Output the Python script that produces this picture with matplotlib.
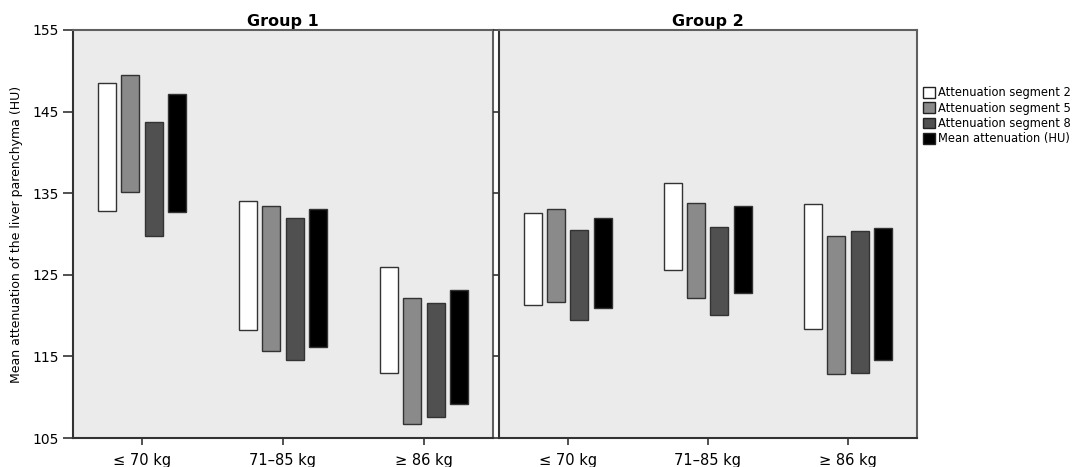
import numpy as np
import matplotlib
matplotlib.use("Agg")
import matplotlib.pyplot as plt
from matplotlib.patches import Patch

# weight classes (x categories)
categories = ["\u2264 70 kg", "71\u201385 kg", "\u2265 86 kg"]
series = ["Attenuation segment 2", "Attenuation segment 5",
          "Attenuation segment 8", "Mean attenuation (HU)"]
colors = ["#ffffff", "#8a8a8a", "#505050", "#000000"]

# Group 1: low / high ends of each floating bar, per series
g1_seg2_low = [132.8, 118.2, 113.0]
g1_seg2_high = [148.5, 134.0, 125.9]
g1_seg5_low = [135.2, 115.7, 106.7]
g1_seg5_high = [149.5, 133.4, 122.2]
g1_seg8_low = [129.7, 114.5, 107.6]
g1_seg8_high = [143.7, 131.9, 121.5]
g1_mean_low = [132.7, 116.2, 109.2]
g1_mean_high = [147.2, 133.0, 123.1]

# Group 2
g2_seg2_low = [121.3, 125.6, 118.4]
g2_seg2_high = [132.6, 136.2, 133.7]
g2_seg5_low = [121.7, 122.2, 112.8]
g2_seg5_high = [133.0, 133.8, 129.7]
g2_seg8_low = [119.5, 120.1, 113.0]
g2_seg8_high = [130.5, 130.8, 130.4]
g2_mean_low = [120.9, 122.8, 114.6]
g2_mean_high = [131.9, 133.4, 130.7]

groups = [
    ("Group 1", [(g1_seg2_low, g1_seg2_high), (g1_seg5_low, g1_seg5_high),
                 (g1_seg8_low, g1_seg8_high), (g1_mean_low, g1_mean_high)]),
    ("Group 2", [(g2_seg2_low, g2_seg2_high), (g2_seg5_low, g2_seg5_high),
                 (g2_seg8_low, g2_seg8_high), (g2_mean_low, g2_mean_high)]),
]
yticks = [105, 115, 125, 135, 145, 155]

plt.rcParams["font.family"] = "DejaVu Sans"

fig = plt.figure(figsize=(10.78, 4.67), dpi=100)
axes = [fig.add_axes([0.0677, 0.062, 0.3896, 0.874]),
        fig.add_axes([0.4629, 0.062, 0.3874, 0.874])]

x = np.arange(len(categories))
pitch = 0.166
width = 0.128
offsets = (np.arange(4) - 1.5) * pitch

for i, (ax, (title, data)) in enumerate(zip(axes, groups)):
    ax.set_facecolor("#ebebeb")
    for k, (low, high) in enumerate(data):
        low = np.array(low)
        high = np.array(high)
        ax.bar(x + offsets[k], high - low, bottom=low, width=width,
               color=colors[k], edgecolor="#333333", linewidth=1.0, zorder=3)
    ax.set_xlim(-0.49, 2.49)
    ax.set_ylim(105, 155)
    ax.set_yticks(yticks)
    ax.set_xticks(x)
    ax.set_xticklabels(categories, fontsize=10.5)
    ax.set_title(title, fontsize=11.5, fontweight="bold", pad=3)
    for s in ax.spines.values():
        s.set_color("#606060")
        s.set_linewidth(1.5)
    ax.spines["left"].set_color("#333333")
    ax.spines["bottom"].set_color("#333333")
    ax.tick_params(axis="x", length=5, width=1.2, color="#333333", pad=6)
    if i == 0:
        ax.tick_params(axis="y", length=7, width=1.2, color="#333333",
                       labelsize=10, pad=3)
        ax.set_ylabel("Mean attenuation of the liver parenchyma (HU)",
                      fontsize=9, labelpad=7)
    else:
        ax.tick_params(axis="y", length=4, width=1.2, color="#333333",
                       labelleft=False)

handles = [Patch(facecolor=c, edgecolor="#222222", linewidth=1.0) for c in colors]
fig.legend(handles, series, loc="upper left", bbox_to_anchor=(0.856, 0.815),
           frameon=False, fontsize=8.3, handlelength=1.05, handleheight=1.05,
           handletextpad=0.25, labelspacing=0.2, borderaxespad=0, borderpad=0)

fig.savefig("out.png", dpi=100)
